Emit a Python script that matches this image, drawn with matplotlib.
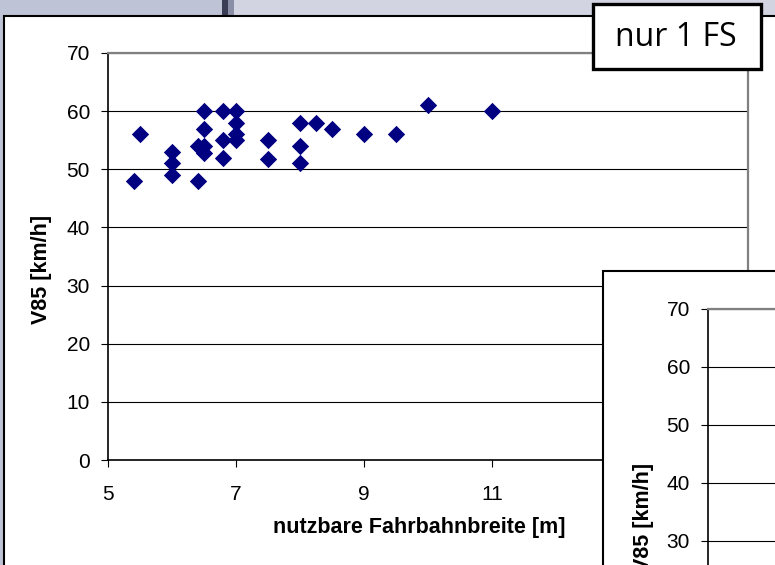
import matplotlib.pyplot as plt
from matplotlib.patches import Rectangle

# nutzbare Fahrbahnbreite [m] vs V85 [km/h], nur 1 FS
breite = [5.4, 5.5, 6.0, 6.0, 6.0, 6.4, 6.4, 6.5, 6.5, 6.5, 6.5,
          6.8, 6.8, 6.8, 7.0, 7.0, 7.0, 7.0, 7.5, 7.5,
          8.0, 8.0, 8.0, 8.25, 8.5, 9.0, 9.5, 10.0, 11.0]
v85 = [48, 56, 53, 51, 49, 48, 54, 60, 57, 54, 52.8,
       60, 55, 52, 60, 58, 56, 55, 55, 51.7,
       58, 54, 51, 58, 57, 56, 56, 61, 60]

xticks = [5, 7, 9, 11, 13, 15]
yticks = [0, 10, 20, 30, 40, 50, 60, 70]

W, H = 775, 565
plt.rcParams['font.family'] = ['Liberation Sans', 'DejaVu Sans']

fig = plt.figure(figsize=(W / 100, H / 100), dpi=100)
fig.patch.set_facecolor('white')

def fx(px):
    return px / W

def fy(py):
    return 1 - py / H

# slide background around the chart
fig.add_artist(Rectangle((0, fy(16)), 1, 16 / H, transform=fig.transFigure,
                         facecolor='#bec3d5', edgecolor='none', zorder=-5))
fig.add_artist(Rectangle((fx(234), fy(16)), 1, 16 / H, transform=fig.transFigure,
                         facecolor='#d2d4e1', edgecolor='none', zorder=-5))
fig.add_artist(Rectangle((fx(222), fy(16)), 6 / W, 16 / H, transform=fig.transFigure,
                         facecolor='#3a3d55', edgecolor='none', zorder=-5))
fig.add_artist(Rectangle((fx(228), fy(16)), 6 / W, 16 / H, transform=fig.transFigure,
                         facecolor='#8a8ea6', edgecolor='none', zorder=-5))
fig.add_artist(Rectangle((0, 0), 3 / W, 1, transform=fig.transFigure,
                         facecolor='#bec3d5', edgecolor='none', zorder=-5))
fig.add_artist(Rectangle((fx(3.5), -0.1), 1.2, fy(16) + 0.1, transform=fig.transFigure,
                         facecolor='white', edgecolor='black', linewidth=1.5, zorder=-4))

# main chart
ax = fig.add_axes([fx(108), fy(460), fx(748) - fx(108), fy(53) - fy(460)])
ax.scatter(breite, v85, marker='D', s=78, color='#000080', linewidths=0, zorder=3)
ax.set_xlim(5, 15)
ax.set_ylim(0, 70)
ax.set_xticks(xticks)
ax.set_yticks(yticks)
ax.grid(axis='y', color='black', linewidth=0.8)
ax.set_axisbelow(True)
ax.spines['left'].set_color('black')
ax.spines['bottom'].set_color('black')
ax.spines['left'].set_linewidth(1.2)
ax.spines['bottom'].set_linewidth(1.2)
ax.spines['top'].set_color('#808080')
ax.spines['right'].set_color('#808080')
ax.spines['top'].set_linewidth(1.6)
ax.spines['right'].set_linewidth(1.6)
ax.tick_params(axis='y', length=5, pad=8, labelsize=15)
ax.tick_params(axis='x', length=5, pad=13, labelsize=15)
ax.set_xlabel('nutzbare Fahrbahnbreite [m]', fontsize=15.5, fontweight='bold', va='center')
ax.xaxis.set_label_coords(fx(419.5), fy(528), transform=fig.transFigure)
ax.set_ylabel('V85 [km/h]', fontsize=15.5, fontweight='bold', va='center')
ax.yaxis.set_label_coords(fx(42), fy(269), transform=fig.transFigure)

# second chart overlapping at bottom right
fig.add_artist(Rectangle((fx(603), -0.2), 1, fy(271) + 0.2, transform=fig.transFigure,
                         facecolor='white', edgecolor='black', linewidth=1.5, zorder=1))
ax2 = fig.add_axes([fx(708), fy(715), 0.6, fy(309) - fy(715)])
ax2.set_zorder(2)
ax2.set_ylim(0, 70)
ax2.set_yticks(yticks)
ax2.set_xticks([])
ax2.grid(axis='y', color='black', linewidth=0.8)
ax2.spines['left'].set_linewidth(1.2)
ax2.spines['top'].set_color('#808080')
ax2.spines['top'].set_linewidth(1.6)
ax2.tick_params(axis='y', length=5, pad=8, labelsize=15)
ax2.set_ylabel('V85 [km/h]', fontsize=15.5, fontweight='bold', va='center')
ax2.yaxis.set_label_coords(fx(643), fy(517), transform=fig.transFigure)

# "nur 1 FS" box
fig.add_artist(Rectangle((fx(593), fy(69)), 168 / W, 65 / H, transform=fig.transFigure,
                         facecolor='white', edgecolor='black', linewidth=2.4, zorder=5))
fig.text(fx(676), fy(37), 'nur 1 FS', fontsize=23, family=['Open Sans', 'DejaVu Sans'],
         ha='center', va='center', zorder=6)

plt.savefig('out.png', dpi=100)
